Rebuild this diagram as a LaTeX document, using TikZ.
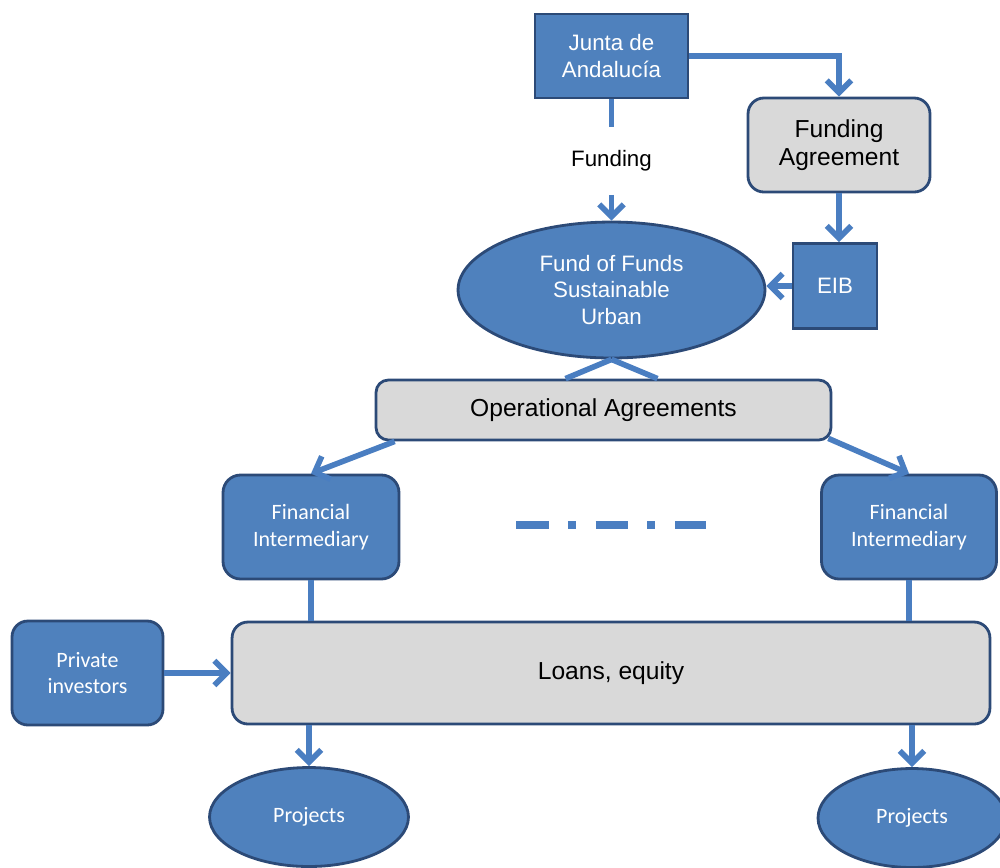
\documentclass[tikz,border=0pt]{standalone}
\usepackage{fontspec}
\setmainfont{Liberation Sans}
\newfontfamily\calibri{Carlito}
\usepackage{xcolor}
\usetikzlibrary{positioning}
\usetikzlibrary{shapes.geometric,arrows.meta,calc}
\definecolor{boxblue}{HTML}{4F81BD}
\definecolor{edgeblue}{HTML}{2C4A77}
\definecolor{linkblue}{HTML}{4A7EC1}
\definecolor{boxgray}{HTML}{D9D9D9}
\tikzset{
	bluebox/.style={draw=edgeblue,fill=boxblue,line width=1.6pt,text=white,align=center,inner sep=0pt},
	graybox/.style={draw=edgeblue,fill=boxgray,line width=1.6pt,rounded corners=7pt,align=center,inner sep=0pt},
	blueoval/.style={bluebox,ellipse},
	link/.style={draw=linkblue,line width=3.2pt},
	arr/.style={link,-{Straight Barb[length=7pt,width=14pt]}},
	ff/.style={font=\fontsize{12.7}{15}\selectfont},
	fbig/.style={font=\fontsize{14}{16}\selectfont},
	fcal/.style={font=\calibri\fontsize{12.5}{15.3}\selectfont}
}

\begin{document}
\begin{tikzpicture}[x=0.02cm,y=-0.02cm]
	\useasboundingbox (0,0) rectangle (1000,867);
	\node (junta) [bluebox,ff,minimum width=3.06cm,minimum height=1.68cm] at (611.5,56) {Junta de\\Andalucía};
	\node (fa) [graybox,fbig,rounded corners=9pt,minimum width=3.64cm,minimum height=1.88cm] at (839,145) {Funding\\Agreement};
	\node (fund) [ff,inner sep=0pt,minimum height=1.34cm] at (611.5,161) {Funding};
	\node (eib) [bluebox,ff,minimum width=1.68cm,minimum height=1.7cm] at (835,286) {EIB};
	\node (fof) [blueoval,ff,minimum width=6.14cm,minimum height=2.72cm] at (611.5,290) {Fund of Funds\\Sustainable\\Urban};
	\node (oa) [graybox,fbig,minimum width=9.1cm,minimum height=1.2cm] at (603.5,410) {Operational Agreements};
	\node (fi1) [bluebox,fcal,rounded corners=10pt,minimum width=3.52cm,minimum height=2.08cm] at (311,527) {Financial\\Intermediary};
	\node (fi2) [bluebox,fcal,rounded corners=10pt,minimum width=3.5cm,minimum height=2.08cm] at (909,527) {Financial\\Intermediary};
	\node (loans) [graybox,fbig,rounded corners=9pt,minimum width=15.16cm,minimum height=2.04cm] at (611,673) {Loans, equity};
	\node (pi) [bluebox,fcal,rounded corners=9pt,minimum width=3.02cm,minimum height=2.08cm] at (87.5,673) {Private\\investors};
	\node (p1) [blueoval,fcal,minimum width=3.98cm,minimum height=1.98cm] at (309,817) {Projects};
	\node (p2) [blueoval,fcal,minimum width=3.76cm,minimum height=1.98cm] at (912,818) {Projects};

	\draw[link] (junta.south) -- (fund.north);
	\draw[arr] (fund.south) -- (fof.north);
	\draw[arr] (junta.east) -| (fa.north);
	\draw[arr] (fa.south) -- (fa.south |- eib.north);
	\draw[arr] (eib.west) -- (eib.west -| fof.east);
	\draw[link] (fof.south) -- ($(oa.north)+(-38,0)$);
	\draw[link] (fof.south) -- ($(oa.north)+(54,0)$);
	\draw[arr] ($(oa.south west)+(20,0)$) -- (fi1.north);
	\draw[arr] ($(oa.south east)+(-4,-3)$) -- (fi2.north);
	\draw[link,line width=4.5pt,dash pattern=on 18.7pt off 10.8pt on 4.5pt off 11.3pt] (516,525) -- (706,525);
	\draw[link] (fi1.south) -- (fi1.south |- loans.north);
	\draw[link] (fi2.south) -- (fi2.south |- loans.north);
	\draw[arr] (pi.east) -- (loans.west);
	\draw[arr] (p1.north |- loans.south) -- (p1.north);
	\draw[arr] (p2.north |- loans.south) -- (p2.north);
\end{tikzpicture}
\end{document}
